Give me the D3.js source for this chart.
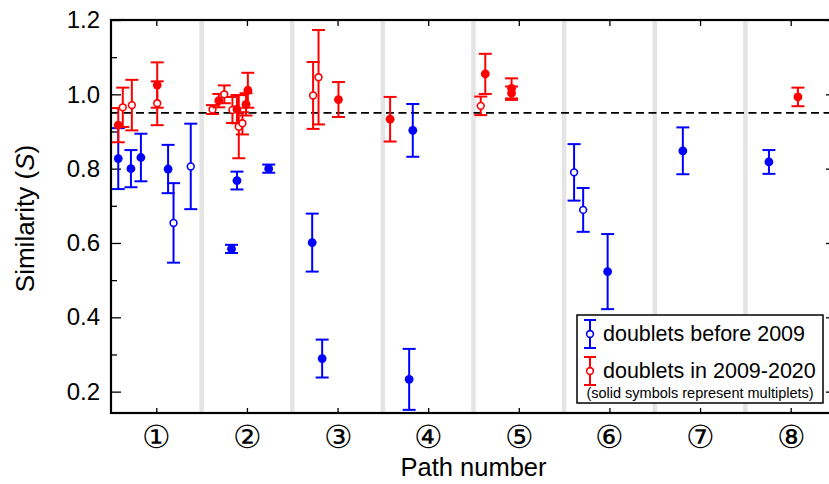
<!DOCTYPE html>
<html>
<head>
<meta charset="utf-8">
<script src="https://cdn.jsdelivr.net/npm/d3@7"></script>
<style>
  body { margin: 0; background: #fff; }
  text { font-family: "Liberation Sans", Arial, Helvetica, sans-serif; }
</style>
</head>
<body>
<script>
// path numbers on the x axis
var pathLabels = ["①", "②", "③", "④", "⑤", "⑥", "⑦", "⑧"];
var yMajor = [0.2, 0.4, 0.6, 0.8, 1.0, 1.2];
var yMinor = [0.3, 0.5, 0.7, 0.9, 1.1];
var threshold = 0.95;

// doublets before 2009 (blue)
var beforeX     = [0.58, 0.72, 0.83, 1.13, 1.19, 1.38, 1.83, 1.89, 2.24, 2.72, 2.83, 3.83, 3.79, 5.61, 5.71, 5.98, 6.81, 7.76];
var beforeS     = [0.827, 0.800, 0.830, 0.799, 0.654, 0.806, 0.584, 0.768, 0.800, 0.601, 0.289, 0.903, 0.233, 0.790, 0.689, 0.523, 0.848, 0.818];
var beforeErr   = [0.082, 0.050, 0.064, 0.065, 0.107, 0.115, 0.011, 0.024, 0.011, 0.078, 0.051, 0.071, 0.082, 0.076, 0.059, 0.101, 0.063, 0.032];
var beforeSolid = [1, 1, 1, 1, 0, 0, 1, 1, 1, 1, 1, 1, 1, 0, 0, 1, 1, 1];

// doublets in 2009-2020 (red)
var recentX     = [0.58, 0.63, 0.73, 1.01, 1.01, 1.62, 1.69, 1.75, 1.84, 1.89, 1.91, 1.95, 1.99, 2.01, 2.73, 2.79, 3.01, 3.58, 4.58, 4.63, 4.92, 4.92, 8.08];
var recentS     = [0.917, 0.965, 0.971, 1.025, 0.976, 0.959, 0.983, 1.000, 0.958, 0.960, 0.913, 0.922, 0.973, 1.011, 0.997, 1.046, 0.986, 0.933, 0.969, 1.055, 1.016, 1.003, 0.993];
var recentErr   = [0.046, 0.053, 0.068, 0.061, 0.059, 0.012, 0.018, 0.024, 0.035, 0.038, 0.085, 0.030, 0.030, 0.047, 0.090, 0.127, 0.047, 0.060, 0.025, 0.054, 0.027, 0.018, 0.025];
var recentSolid = [1, 0, 0, 1, 0, 0, 1, 0, 0, 1, 0, 0, 1, 1, 0, 0, 1, 1, 0, 1, 1, 1, 1];

var screen = { width: 829, height: 484 };
var margins = { left: 111, top: 20, right: -7, bottom: 71 };

var xScale = d3.scaleLinear()
               .domain([0.5, 8.5])
               .range([margins.left, screen.width - margins.right]);

var yScale = d3.scaleLinear()
               .domain([0.1425, 1.2])
               .range([screen.height - margins.bottom, margins.top]);

var svg = d3.select("body")
            .append("svg")
            .attr("width", screen.width)
            .attr("height", screen.height);

var x0 = xScale.range()[0], x1 = xScale.range()[1];
var y0 = yScale.range()[1], y1 = yScale.range()[0];

// grey separators between paths
svg.append("g")
   .attr("class", "separators")
   .selectAll("line")
   .data(d3.range(1, 8).map(function(i) { return i + 0.5; }))
   .enter()
   .append("line")
   .attr("x1", function(d) { return xScale(d); })
   .attr("x2", function(d) { return xScale(d); })
   .attr("y1", y0)
   .attr("y2", y1)
   .attr("stroke", "#e4e4e4")
   .attr("stroke-width", 4.5);

// dashed threshold
svg.append("line")
   .attr("x1", x0)
   .attr("x2", x1)
   .attr("y1", yScale(threshold))
   .attr("y2", yScale(threshold))
   .attr("stroke", "black")
   .attr("stroke-width", 1.8)
   .attr("stroke-dasharray", "8,4.5");

// axes
var yAxis = d3.axisLeft(yScale)
              .tickValues(yMajor)
              .tickFormat(d3.format(".1f"))
              .tickSizeInner(-10)
              .tickSizeOuter(0)
              .tickPadding(11);

var yAxisG = svg.append("g")
   .attr("class", "yAxis")
   .attr("transform", "translate(" + x0 + ",0)")
   .call(yAxis);
yAxisG.selectAll("text").attr("font-size", 24).attr("font-family", "Liberation Sans, Arial, sans-serif").attr("fill", "black");

svg.append("g")
   .attr("transform", "translate(" + x0 + ",0)")
   .call(d3.axisLeft(yScale).tickValues(yMinor).tickFormat("").tickSizeInner(-6).tickSizeOuter(0));

svg.append("g")
   .attr("transform", "translate(" + x1 + ",0)")
   .call(d3.axisRight(yScale).tickValues(yMajor).tickFormat("").tickSizeInner(-10).tickSizeOuter(0));

svg.append("g")
   .attr("transform", "translate(" + x1 + ",0)")
   .call(d3.axisRight(yScale).tickValues(yMinor).tickFormat("").tickSizeInner(-6).tickSizeOuter(0));

svg.append("g")
   .attr("transform", "translate(0," + y0 + ")")
   .call(d3.axisTop(xScale).tickValues(d3.range(1, 9)).tickFormat("").tickSizeInner(-6).tickSizeOuter(0));

var xAxisG = svg.append("g")
   .attr("class", "xAxis")
   .attr("transform", "translate(0," + y1 + ")")
   .call(d3.axisBottom(xScale)
           .tickValues(d3.range(1, 9))
           .tickFormat(function(d) { return pathLabels[d - 1]; })
           .tickSizeInner(-5)
           .tickSizeOuter(0));
xAxisG.selectAll("text")
      .attr("y", 24)
      .attr("dy", null)
      .attr("dominant-baseline", "central")
      .attr("font-size", 32)
      .attr("font-family", "Noto Sans CJK JP, DejaVu Sans, sans-serif")
      .attr("fill", "black");

svg.selectAll(".domain").remove();
svg.selectAll(".tick line").attr("stroke", "black").attr("stroke-width", 1.3);

// frame
svg.append("rect")
   .attr("x", x0)
   .attr("y", y0)
   .attr("width", x1 - x0)
   .attr("height", y1 - y0)
   .attr("fill", "none")
   .attr("stroke", "black")
   .attr("stroke-width", 2.2);

// error bars with symbols
var drawSeries = function(xs, ss, errs, solids, color) {
  var g = svg.append("g");
  var pts = g.selectAll("g")
             .data(xs.map(function(x, i) {
               return { x: x, s: ss[i], e: errs[i], solid: solids[i] };
             }))
             .enter()
             .append("g");

  pts.append("line")
     .attr("x1", function(d) { return xScale(d.x); })
     .attr("x2", function(d) { return xScale(d.x); })
     .attr("y1", function(d) { return yScale(d.s - d.e); })
     .attr("y2", function(d) { return yScale(d.s + d.e); })
     .attr("stroke", color)
     .attr("stroke-width", 2);

  [-1, 1].forEach(function(sign) {
    pts.append("line")
       .attr("x1", function(d) { return xScale(d.x) - 6.5; })
       .attr("x2", function(d) { return xScale(d.x) + 6.5; })
       .attr("y1", function(d) { return yScale(d.s + sign * d.e); })
       .attr("y2", function(d) { return yScale(d.s + sign * d.e); })
       .attr("stroke", color)
       .attr("stroke-width", 2);
  });

  pts.append("circle")
     .attr("cx", function(d) { return xScale(d.x); })
     .attr("cy", function(d) { return yScale(d.s); })
     .attr("r", function(d) { return d.solid ? 4.4 : 3.4; })
     .attr("fill", function(d) { return d.solid ? color : "white"; })
     .attr("stroke", color)
     .attr("stroke-width", function(d) { return d.solid ? 0 : 1.6; });
};

drawSeries(beforeX, beforeS, beforeErr, beforeSolid, "#0000ff");
drawSeries(recentX, recentS, recentErr, recentSolid, "#ff0000");

// axis titles
svg.append("text")
   .attr("x", (x0 + x1) / 2)
   .attr("y", 476)
   .attr("text-anchor", "middle")
   .attr("font-size", 25.5)
   .text("Path number");

var yTitle = svg.append("text")
   .attr("transform", "translate(34," + ((y0 + y1) / 2 + 2) + ") rotate(-90)")
   .attr("text-anchor", "middle")
   .attr("font-size", 26);
yTitle.append("tspan").text("Similarity (");
yTitle.append("tspan").attr("font-style", "italic").text("S");
yTitle.append("tspan").text(")");

// legend
var legend = svg.append("g").attr("class", "legend");
legend.append("rect")
      .attr("x", 577)
      .attr("y", 315)
      .attr("width", 246)
      .attr("height", 88)
      .attr("fill", "white")
      .attr("stroke", "black")
      .attr("stroke-width", 1.5);

var legendItems = [
  { label: "doublets before 2009", color: "#0000ff", cy: 334, ty: 341 },
  { label: "doublets in 2009-2020", color: "#ff0000", cy: 371, ty: 378 }
];

legendItems.forEach(function(item) {
  var lx = 590;
  legend.append("line")
        .attr("x1", lx).attr("x2", lx)
        .attr("y1", item.cy - 14).attr("y2", item.cy + 14)
        .attr("stroke", item.color).attr("stroke-width", 2);
  [-14, 14].forEach(function(o) {
    legend.append("line")
          .attr("x1", lx - 6).attr("x2", lx + 6)
          .attr("y1", item.cy + o).attr("y2", item.cy + o)
          .attr("stroke", item.color).attr("stroke-width", 2);
  });
  legend.append("circle")
        .attr("cx", lx).attr("cy", item.cy).attr("r", 3.4)
        .attr("fill", "white").attr("stroke", item.color).attr("stroke-width", 1.6);
  legend.append("text")
        .attr("x", 603)
        .attr("y", item.ty)
        .attr("font-size", 21.5)
        .text(item.label);
});

legend.append("text")
      .attr("x", 700)
      .attr("y", 398)
      .attr("text-anchor", "middle")
      .attr("font-size", 14.5)
      .text("(solid symbols represent multiplets)");
</script>
</body>
</html>
